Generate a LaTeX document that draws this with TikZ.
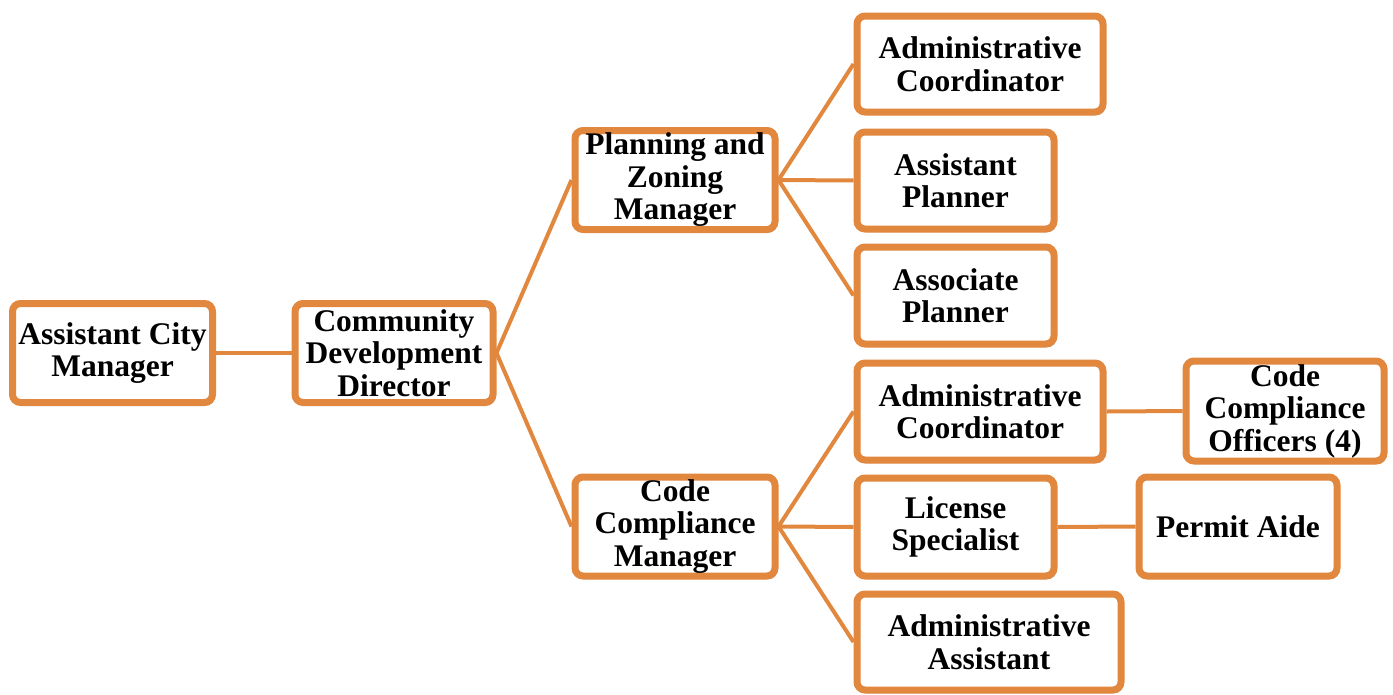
\documentclass[tikz,border=0pt]{standalone}
\usepackage{fontspec}
\setmainfont{Liberation Serif}
\usetikzlibrary{shadows,backgrounds}
\definecolor{orng}{RGB}{225,135,62}
\tikzset{
  box/.style={draw=orng, line width=7pt, rounded corners=8pt, fill=white,
    align=center, inner sep=0pt,
    font=\fontsize{31.5}{32.5}\selectfont\bfseries,
    drop shadow={shadow xshift=2pt, shadow yshift=-3pt, opacity=0.25, fill=black}},
  conn/.style={draw=orng, line width=4pt}
}
\begin{document}
\begin{tikzpicture}[x=1pt,y=-1pt]
\useasboundingbox (0,0) rectangle (1393,694);
\node[box, minimum width=200pt, minimum height=99pt] (acm) at (112.5,353) {Assistant City\\Manager};
\node[box, minimum width=198pt, minimum height=99pt] (cdd) at (394,353) {Community\\Development\\Director};
\node[box, minimum width=200pt, minimum height=99pt] (pzm) at (675,180) {Planning and\\Zoning\\Manager};
\node[box, minimum width=200pt, minimum height=99pt] (ccm) at (675,526.5) {Code\\Compliance\\Manager};
\node[box, minimum width=246pt, minimum height=96pt] (ac1) at (980,64) {Administrative\\Coordinator};
\node[box, minimum width=197pt, minimum height=97pt] (ap) at (955.5,180.5) {Assistant\\Planner};
\node[box, minimum width=197pt, minimum height=97pt] (asp) at (955.5,295.5) {Associate\\Planner};
\node[box, minimum width=246pt, minimum height=97pt] (ac2) at (980,411.5) {Administrative\\Coordinator};
\node[box, minimum width=197pt, minimum height=98pt] (ls) at (955.5,527) {License\\Specialist};
\node[box, minimum width=264pt, minimum height=96pt] (aa) at (989,642) {Administrative\\Assistant};
\node[box, minimum width=198pt, minimum height=100pt] (cco) at (1285,411) {Code\\Compliance\\Officers (4)};
\node[box, minimum width=198pt, minimum height=99pt] (pa) at (1238,526.5) {Permit Aide};
\begin{scope}[on background layer]
\draw[conn] (acm.east) -- (cdd.west);
\draw[conn] (cdd.east) -- (pzm.west);
\draw[conn] (cdd.east) -- (ccm.west);
\draw[conn] (pzm.east) -- (ac1.west);
\draw[conn] (pzm.east) -- (ap.west);
\draw[conn] (pzm.east) -- (asp.west);
\draw[conn] (ccm.east) -- (ac2.west);
\draw[conn] (ccm.east) -- (ls.west);
\draw[conn] (ccm.east) -- (aa.west);
\draw[conn] (ac2.east) -- (cco.west);
\draw[conn] (ls.east) -- (pa.west);
\end{scope}
\end{tikzpicture}
\end{document}
